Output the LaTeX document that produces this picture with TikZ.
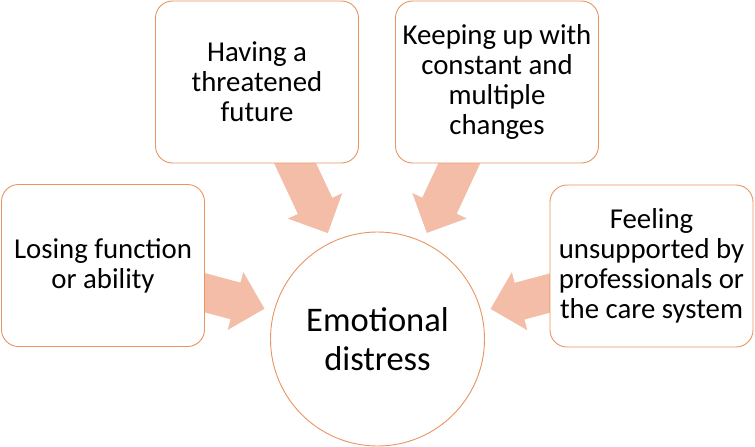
\documentclass[tikz,border=0pt]{standalone}
\usepackage{fontspec}
\setmainfont{Carlito}
\usetikzlibrary{calc,backgrounds}
\definecolor{boxline}{RGB}{233,148,98}
\definecolor{arrowfill}{RGB}{243,189,167}
\newcommand\blockarr[3]{%
  \coordinate (#3b) at ($(#2)!30pt!(#1)$);
  \fill[arrowfill] ($(#1)!19pt!90:(#2)$) -- ($(#3b)!19pt!-90:(#1)$) -- ($(#3b)!30pt!-90:(#1)$) -- (#2) -- ($(#3b)!30pt!90:(#1)$) -- ($(#3b)!19pt!90:(#1)$) -- ($(#1)!19pt!-90:(#2)$) -- cycle;}
\begin{document}
\begin{tikzpicture}[x=1pt,y=-1pt,
  cause/.style={draw=boxline, line width=0.9pt, fill=white, rounded corners=17pt,
    minimum width=203pt, minimum height=162pt, align=center, inner sep=0pt,
    font={\fontsize{28.8}{30}\selectfont}},
  hub/.style={draw=boxline, line width=0.9pt, fill=white, circle, minimum size=214pt,
    align=center, inner sep=0pt, font={\fontsize{34.5}{39}\selectfont}}]
\useasboundingbox (0,0) rectangle (755,447);
\node[cause] (L) at (103,265.5) {Losing function\\or ability};
\node[cause] (TL) at (257,82) {Having a\\threatened\\future};
\node[cause] (TR) at (497,82) {Keeping up with\\constant and\\multiple\\changes};
\node[cause] (R) at (651.5,266) {Feeling\\unsupported by\\professionals or\\the care system};
\node[hub] (c) at (377.5,339) {Emotional\\distress};
\begin{pgfonlayer}{background}
\foreach \b in {L,TL,TR,R}{
  \path (\b) -- (c) coordinate[pos=0] (\b e);
  \coordinate (\b p) at ($(c.center)!117pt!(\b.center)$);
  \coordinate (\b t) at ($(\b e)!-10pt!(\b p)$);
  \blockarr{\b t}{\b p}{\b}
}
\end{pgfonlayer}
\end{tikzpicture}
\end{document}
